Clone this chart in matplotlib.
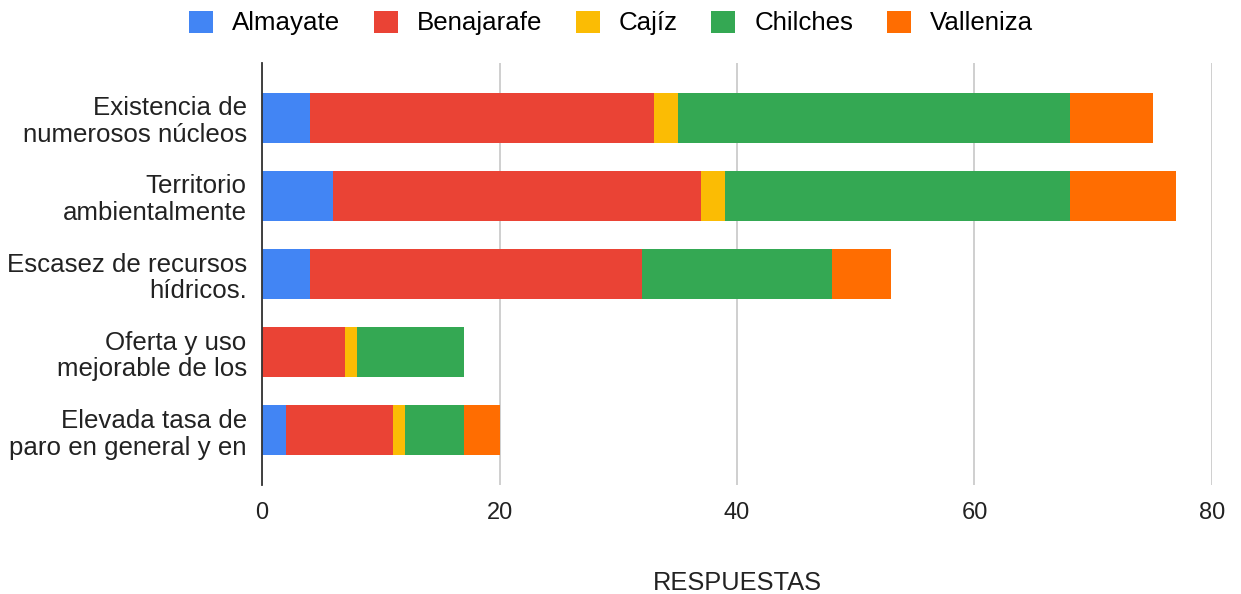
import matplotlib
matplotlib.use("Agg")
import matplotlib.pyplot as plt
import numpy as np

plt.rcParams['font.family'] = ['Liberation Sans', 'DejaVu Sans']

categories = ["Existencia de\nnumerosos núcleos",
              "Territorio\nambientalmente",
              "Escasez de recursos\nhídricos.",
              "Oferta y uso\nmejorable de los",
              "Elevada tasa de\nparo en general y en"]
series_names = ["Almayate", "Benajarafe", "Cajíz", "Chilches", "Valleniza"]
almayate = [4, 6, 4, 0, 2]
benajarafe = [29, 31, 28, 7, 9]
cajiz = [2, 2, 0, 1, 1]
chilches = [33, 29, 16, 9, 5]
valleniza = [7, 9, 5, 0, 3]
colors = ["#4285F4", "#EA4335", "#FBBC04", "#34A853", "#FF6D01"]
xticks = [0, 20, 40, 60, 80]

fig = plt.figure(figsize=(12.41, 5.94), dpi=100)
ax = fig.add_axes([262/1241, 1-485/594, (1212-262)/1241, (485-63)/594])

y = np.arange(len(categories))
left = np.zeros(len(categories))
handles = []
for name, vals, c in zip(series_names, [almayate, benajarafe, cajiz, chilches, valleniza], colors):
    vals = np.array(vals, dtype=float)
    h = ax.barh(y, vals, left=left, height=0.64, color=c, label=name, edgecolor='none')
    left += vals
    handles.append(h)

ax.set_ylim(4.7, -0.7)
ax.set_xlim(0, 80)
ax.set_xticks(xticks)
ax.set_xticklabels([str(t) for t in xticks], fontsize=17, color='#222222')
ax.set_yticks(y)
ax.set_yticklabels(categories, fontsize=18.6, color='#222222', linespacing=1.15)
ax.tick_params(axis='both', length=0)
ax.tick_params(axis='x', pad=12)
ax.tick_params(axis='y', pad=11)
ax.xaxis.grid(True, color='#cccccc', linewidth=1.3)
ax.set_axisbelow(True)
for s in ['top', 'right', 'bottom']:
    ax.spines[s].set_visible(False)
ax.spines['left'].set_color('#333333')
ax.spines['left'].set_linewidth(1.3)
ax.set_xlabel("RESPUESTAS", fontsize=18.3, color='#222222', labelpad=34)

fig.legend(handles=handles, labels=series_names, loc='center', bbox_to_anchor=(611/1241, 1-23/594),
           ncol=5, frameon=False, fontsize=18.6, handlelength=0.93, handleheight=0.93,
           columnspacing=1.3, handletextpad=0.74)

fig.savefig("out.png", dpi=100)
